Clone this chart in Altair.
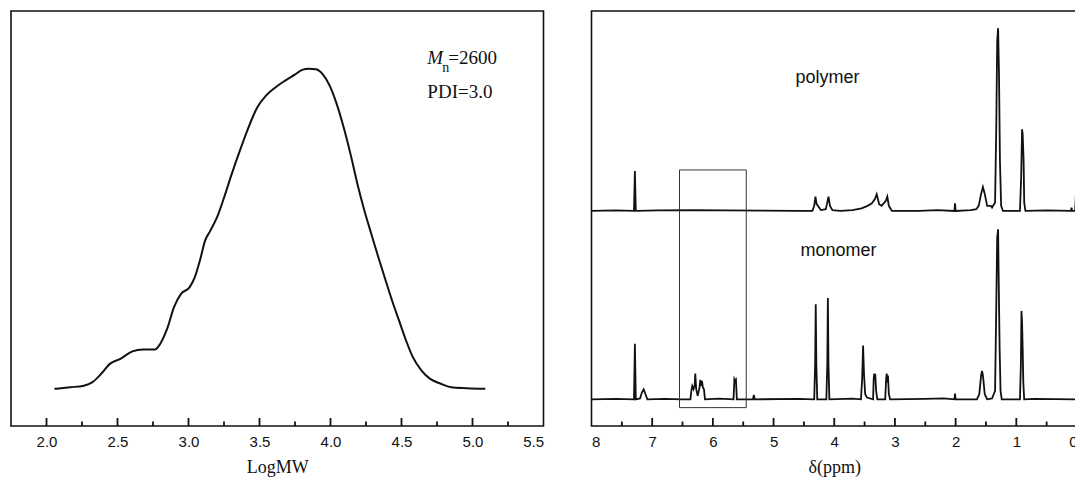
import altair as alt
import pandas as pd

# ---------------- left panel: GPC trace ----------------
logmw = [2.056, 2.166, 2.263, 2.324, 2.385, 2.446, 2.52, 2.605, 2.678, 2.763,
         2.80, 2.849, 2.898, 2.946, 3.007, 3.044, 3.080, 3.117, 3.154, 3.21,
         3.251, 3.30, 3.361, 3.422, 3.483, 3.544, 3.605, 3.678, 3.751, 3.80,
         3.849, 3.898, 3.946, 3.995, 4.044, 4.093, 4.141, 4.19, 4.239, 4.288,
         4.337, 4.385, 4.434, 4.483, 4.532, 4.58, 4.641, 4.702, 4.776, 4.849,
         4.96, 5.09]
gpc = [0, 0.005, 0.010, 0.021, 0.047, 0.078, 0.094, 0.117, 0.123, 0.123,
       0.140, 0.187, 0.255, 0.296, 0.317, 0.348, 0.400, 0.463, 0.494, 0.546,
       0.598, 0.665, 0.743, 0.816, 0.878, 0.915, 0.939, 0.962, 0.982, 0.996,
       1.0, 0.998, 0.982, 0.946, 0.889, 0.816, 0.733, 0.639, 0.556, 0.483,
       0.411, 0.343, 0.275, 0.213, 0.151, 0.099, 0.057, 0.031, 0.016, 0.005,
       0.002, 0]

left_labels = [2.0, 2.5, 3.0, 3.5, 4.0, 4.5, 5.0, 5.5]
left_major = [2.0, 2.5, 3.0, 3.5, 4.0, 4.5, 5.0]
left_minor = [2.25, 2.75, 3.25, 3.75, 4.25, 4.75, 5.25]

# ---------------- right panel: 1H NMR ----------------
ppm_m = [8.0, 7.6, 7.30, 7.285, 7.27, 7.20, 7.17, 7.14, 7.11, 7.08,
         6.8, 6.5, 6.37, 6.355, 6.34, 6.32, 6.30, 6.29, 6.275, 6.25,
         6.22, 6.207, 6.195, 6.18, 6.165, 6.147, 6.13, 5.9, 5.66, 5.645,
         5.63, 5.62, 5.605, 5.34, 5.325, 5.31, 4.6, 4.33, 4.315, 4.305,
         4.295, 4.28, 4.13, 4.115, 4.105, 4.095, 4.08, 3.7, 3.56, 3.54,
         3.525, 3.51, 3.49, 3.46, 3.36, 3.35, 3.34, 3.33, 3.325, 3.31,
         3.29, 3.16, 3.145, 3.135, 3.125, 3.115, 3.10, 3.08, 2.5, 2.2,
         2.02, 2.01, 2.0, 1.65, 1.61, 1.58, 1.565, 1.55, 1.52, 1.48,
         1.40, 1.35, 1.33, 1.315, 1.30, 1.29, 1.275, 1.26, 1.24, 0.94,
         0.925, 0.915, 0.905, 0.895, 0.885, 0.87, 0.7, 0.0]
int_m = [0, 0.003, 0, 0.327, 0, 0.005, 0.04, 0.059, 0.03, 0,
         0.003, 0, 0, 0.05, 0.078, 0.06, 0.08, 0.151, 0.06, 0.02,
         0.07, 0.114, 0.08, 0.108, 0.07, 0.059, 0, 0.004, 0, 0.12,
         0.11, 0.115, 0, 0, 0.025, 0, 0.002, 0, 0.2, 0.559,
         0.2, 0, 0, 0.2, 0.596, 0.2, 0, 0.004, 0, 0.12,
         0.316, 0.15, 0.03, 0.01, 0, 0.12, 0.151, 0.12, 0.15, 0.05,
         0, 0, 0.12, 0.151, 0.1, 0.14, 0.03, 0, 0.003, 0.006,
         0, 0.033, 0, 0, 0.03, 0.14, 0.167, 0.14, 0.03, 0,
         0.005, 0.05, 0.55, 0.95, 1.0, 0.7, 0.3, 0.05, 0, 0,
         0.2, 0.52, 0.45, 0.3, 0.1, 0, 0.003, 0]

ppm_p = [8.0, 7.6, 7.30, 7.285, 7.27, 6.9, 6.3, 5.8, 4.6, 4.36,
         4.33, 4.31, 4.29, 4.22, 4.14, 4.12, 4.095, 4.07, 4.03, 3.9,
         3.7, 3.55, 3.45, 3.38, 3.33, 3.30, 3.26, 3.22, 3.15, 3.126,
         3.10, 3.05, 2.6, 2.3, 2.02, 2.01, 2.0, 1.75, 1.66, 1.62,
         1.58, 1.55, 1.52, 1.48, 1.42, 1.40, 1.35, 1.33, 1.315, 1.30,
         1.285, 1.27, 1.25, 1.22, 0.94, 0.92, 0.905, 0.895, 0.88, 0.87,
         0.85, 0.5, 0.1, 0.09, 0.08, 0.03, 0.012, 0.0]
int_p = [0, 0.003, 0, 0.235, 0, 0.003, 0.004, 0.003, 0, 0,
         0.03, 0.084, 0.04, 0.005, 0.01, 0.04, 0.084, 0.03, 0.005, 0,
         0.005, 0.015, 0.03, 0.045, 0.07, 0.098, 0.04, 0.03, 0.06, 0.084,
         0.03, 0, 0, 0.005, 0, 0.045, 0, 0.005, 0.01, 0.03,
         0.1, 0.141, 0.1, 0.03, 0.03, 0.02, 0.05, 0.5, 1.0, 1.075,
         0.8, 0.3, 0.03, 0, 0, 0.2, 0.48, 0.45, 0.3, 0.05,
         0, 0.003, 0, 0.02, 0, 0, 0.147, 0.147]
POLY_OFFSET = 1.108

right_labels = [8, 7, 6, 5, 4, 3, 2, 1, 0]
right_major = [1, 2, 3, 4, 5, 6, 7]
right_minor = [0.5, 1.5, 2.5, 3.5, 4.5, 5.5, 6.5, 7.5]

# ---------------- layout ----------------
LW, LH = 532.5, 415
RW, RH = 485.5, 415
INK = "#111111"
SANS = "Liberation Sans"
SERIF = "Liberation Serif"

one = alt.Data(values=[{}])

def xaxis(values, fmt, title):
    return alt.Axis(values=values, format=fmt, title=title,
                    grid=False, domain=False, ticks=False, tickSize=0,
                    labelPadding=8, labelFontSize=15, labelFont=SANS,
                    labelColor=INK, titleFont=SERIF, titleFontSize=18,
                    titleFontWeight="normal", titleColor=INK,
                    titlePadding=9)

# ---- left chart ----
gpc_df = pd.DataFrame({"x": logmw, "y": gpc})
xl_scale = alt.Scale(domain=[1.75, 5.5], nice=False, zero=False)
yl_scale = alt.Scale(domain=[-0.116, 1.180], nice=False, zero=False)

left_line = alt.Chart(gpc_df).mark_line(
    color=INK, strokeWidth=2, interpolate="monotone"
).encode(
    x=alt.X("x:Q", scale=xl_scale, axis=xaxis(left_labels, ".1f", "LogMW")),
    y=alt.Y("y:Q", scale=yl_scale, axis=None),
)

lmaj = alt.Chart(pd.DataFrame({"x": left_major})).mark_rule(
    color=INK, strokeWidth=1.8).encode(
    x="x:Q", y=alt.value(LH), y2=alt.value(LH - 8))
lmin = alt.Chart(pd.DataFrame({"x": left_minor})).mark_rule(
    color=INK, strokeWidth=1.8).encode(
    x="x:Q", y=alt.value(LH), y2=alt.value(LH - 4.5))

def txt(text, x, y, font, size, style="normal"):
    return alt.Chart(one).mark_text(
        text=text, font=font, fontSize=size, fontStyle=style, color=INK,
        align="left", baseline="alphabetic"
    ).encode(x=alt.datum(x), y=alt.datum(y))

ann_M = txt("M", 4.682, 1.014, SERIF, 19, "italic")
ann_n = txt("n", 4.787, 0.991, SERIF, 14)
ann_eq = txt("=2600", 4.83, 1.014, SERIF, 19)
ann_pdi = txt("PDI=3.0", 4.682, 0.909, SERIF, 19)

left = alt.layer(left_line, lmaj, lmin, ann_M, ann_n, ann_eq, ann_pdi).properties(
    width=LW, height=LH)

# ---- right chart ----
nmr_df = pd.concat([
    pd.DataFrame({"x": ppm_m, "y": int_m, "s": "monomer"}),
    pd.DataFrame({"x": ppm_p, "y": [v + POLY_OFFSET for v in int_p], "s": "polymer"}),
])
xr_scale = alt.Scale(domain=[0, 8], reverse=True, nice=False, zero=False)
yr_scale = alt.Scale(domain=[-0.157, 2.284], nice=False, zero=False)

spec = alt.Chart(nmr_df).mark_line(color=INK, strokeWidth=1.8, clip=True).encode(
    x=alt.X("x:Q", scale=xr_scale, axis=xaxis(right_labels, "d", "δ(ppm)")),
    y=alt.Y("y:Q", scale=yr_scale, axis=None),
    detail="s:N",
)

rmaj = alt.Chart(pd.DataFrame({"x": right_major})).mark_rule(
    color=INK, strokeWidth=1.8).encode(
    x="x:Q", y=alt.value(RH), y2=alt.value(RH - 8))
rmin = alt.Chart(pd.DataFrame({"x": right_minor})).mark_rule(
    color=INK, strokeWidth=1.8).encode(
    x="x:Q", y=alt.value(RH), y2=alt.value(RH - 4.5))

box = alt.Chart(one).mark_rect(filled=False, stroke="#333333",
                               strokeWidth=1).encode(
    x=alt.datum(6.55), x2=alt.datum(5.45),
    y=alt.datum(-0.049), y2=alt.datum(1.349))

def label(text, x, y):
    return alt.Chart(one).mark_text(
        text=text, font=SANS, fontSize=18, color=INK,
        align="center", baseline="alphabetic"
    ).encode(x=alt.datum(x), y=alt.datum(y))

lab_poly = label("polymer", 4.11, 1.862)
lab_mono = label("monomer", 3.93, 0.843)

right = alt.layer(spec, rmaj, rmin, box, lab_poly, lab_mono).properties(
    width=RW, height=RH)

chart = alt.HConcatChart(
    hconcat=[left, right], spacing=47.5, bounds="flush"
).properties(
    padding={"left": 2, "top": 2, "right": -3, "bottom": 0},
    background="white",
).configure_view(stroke=INK, strokeWidth=1.6)

chart.save("out.html", embed_options={"renderer": "svg", "actions": False})
